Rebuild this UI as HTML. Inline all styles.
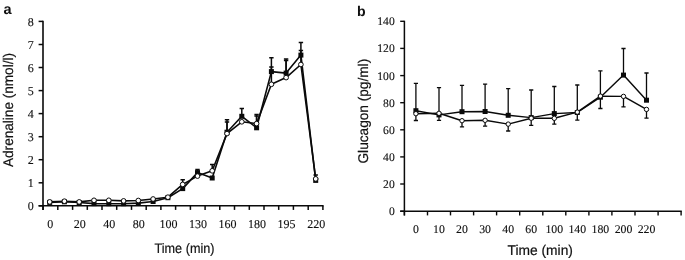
<!DOCTYPE html>
<html><head><meta charset="utf-8"><title>fig</title>
<style>
html,body{margin:0;padding:0;background:#fff;}
body{width:685px;height:260px;overflow:hidden;position:relative;}
svg{will-change:transform;position:absolute;left:0;top:0;display:block;}
text{text-rendering:geometricPrecision;}
.t{font-family:"Liberation Serif",serif;font-size:12px;fill:#111;stroke:#111;stroke-width:0.12px;}
.s{font-family:"Liberation Sans",sans-serif;font-size:12.8px;fill:#111;stroke:#111;stroke-width:0.2px;}
.b{font-family:"Liberation Sans",sans-serif;font-size:14.5px;font-weight:bold;fill:#111;}
</style></head><body>
<svg width="685" height="260" viewBox="0 0 685 260">
<rect width="685" height="260" fill="#fff"/>

<g>
<path d="M43.0 20.8V209.9M38.6 205.8H323.6" stroke="#0a0a0a" stroke-width="1.6" fill="none"/>
<path d="M38.6 205.8H43.0" stroke="#0a0a0a" stroke-width="1.5"/>
<text class="t" x="33.7" y="209.9" text-anchor="end">0</text>
<path d="M38.6 182.8H43.0" stroke="#0a0a0a" stroke-width="1.5"/>
<text class="t" x="33.7" y="186.8" text-anchor="end">1</text>
<path d="M38.6 159.7H43.0" stroke="#0a0a0a" stroke-width="1.5"/>
<text class="t" x="33.7" y="163.8" text-anchor="end">2</text>
<path d="M38.6 136.7H43.0" stroke="#0a0a0a" stroke-width="1.5"/>
<text class="t" x="33.7" y="140.8" text-anchor="end">3</text>
<path d="M38.6 113.6H43.0" stroke="#0a0a0a" stroke-width="1.5"/>
<text class="t" x="33.7" y="117.7" text-anchor="end">4</text>
<path d="M38.6 90.6H43.0" stroke="#0a0a0a" stroke-width="1.5"/>
<text class="t" x="33.7" y="94.7" text-anchor="end">5</text>
<path d="M38.6 67.5H43.0" stroke="#0a0a0a" stroke-width="1.5"/>
<text class="t" x="33.7" y="71.6" text-anchor="end">6</text>
<path d="M38.6 44.5H43.0" stroke="#0a0a0a" stroke-width="1.5"/>
<text class="t" x="33.7" y="48.6" text-anchor="end">7</text>
<path d="M38.6 21.4H43.0" stroke="#0a0a0a" stroke-width="1.5"/>
<text class="t" x="33.7" y="25.5" text-anchor="end">8</text>
<path d="M43.1 205.8V209.9" stroke="#0a0a0a" stroke-width="1.5"/>
<path d="M57.8 205.8V209.9" stroke="#0a0a0a" stroke-width="1.5"/>
<path d="M72.6 205.8V209.9" stroke="#0a0a0a" stroke-width="1.5"/>
<path d="M87.3 205.8V209.9" stroke="#0a0a0a" stroke-width="1.5"/>
<path d="M102.0 205.8V209.9" stroke="#0a0a0a" stroke-width="1.5"/>
<path d="M116.7 205.8V209.9" stroke="#0a0a0a" stroke-width="1.5"/>
<path d="M131.5 205.8V209.9" stroke="#0a0a0a" stroke-width="1.5"/>
<path d="M146.2 205.8V209.9" stroke="#0a0a0a" stroke-width="1.5"/>
<path d="M160.9 205.8V209.9" stroke="#0a0a0a" stroke-width="1.5"/>
<path d="M175.6 205.8V209.9" stroke="#0a0a0a" stroke-width="1.5"/>
<path d="M190.4 205.8V209.9" stroke="#0a0a0a" stroke-width="1.5"/>
<path d="M205.1 205.8V209.9" stroke="#0a0a0a" stroke-width="1.5"/>
<path d="M219.8 205.8V209.9" stroke="#0a0a0a" stroke-width="1.5"/>
<path d="M234.5 205.8V209.9" stroke="#0a0a0a" stroke-width="1.5"/>
<path d="M249.3 205.8V209.9" stroke="#0a0a0a" stroke-width="1.5"/>
<path d="M264.0 205.8V209.9" stroke="#0a0a0a" stroke-width="1.5"/>
<path d="M278.7 205.8V209.9" stroke="#0a0a0a" stroke-width="1.5"/>
<path d="M293.4 205.8V209.9" stroke="#0a0a0a" stroke-width="1.5"/>
<path d="M308.2 205.8V209.9" stroke="#0a0a0a" stroke-width="1.5"/>
<path d="M322.9 205.8V209.9" stroke="#0a0a0a" stroke-width="1.5"/>
<text class="t" x="50.2" y="228.3" text-anchor="middle">0</text>
<text class="t" x="79.7" y="228.3" text-anchor="middle">20</text>
<text class="t" x="109.3" y="228.3" text-anchor="middle">40</text>
<text class="t" x="138.8" y="228.3" text-anchor="middle">80</text>
<text class="t" x="168.4" y="228.3" text-anchor="middle">100</text>
<text class="t" x="198.0" y="228.3" text-anchor="middle">130</text>
<text class="t" x="227.5" y="228.3" text-anchor="middle">160</text>
<text class="t" x="257.1" y="228.3" text-anchor="middle">180</text>
<text class="t" x="286.6" y="228.3" text-anchor="middle">195</text>
<text class="t" x="316.2" y="228.3" text-anchor="middle">220</text>
<text class="s" x="154.5" y="252.5" style="font-size:13.8px" textLength="60.0" lengthAdjust="spacingAndGlyphs">Time (min)</text>
<text class="s" transform="translate(12.7 167) rotate(-90)" style="font-size:14px" textLength="114" lengthAdjust="spacingAndGlyphs">Adrenaline (nmol/l)</text>
<text class="b" x="3.5" y="14.15">a</text>
<path d="M182.7 184.4V179.8M180.5 179.8H184.9" stroke="#0a0a0a" stroke-width="1.5" fill="none"/>
<path d="M197.5 172.6V169.6M195.3 169.6H199.7" stroke="#0a0a0a" stroke-width="1.5" fill="none"/>
<path d="M212.2 170.8V164.4M210.0 164.4H214.4" stroke="#0a0a0a" stroke-width="1.5" fill="none"/>
<path d="M227.0 132.2V119.8M224.8 119.8H229.2" stroke="#0a0a0a" stroke-width="1.5" fill="none"/>
<path d="M227.0 133.6V121.9M224.8 121.9H229.2" stroke="#0a0a0a" stroke-width="1.5" fill="none"/>
<path d="M241.8 116.3V108.5M239.6 108.5H244.0" stroke="#0a0a0a" stroke-width="1.5" fill="none"/>
<path d="M256.6 127.8V115.9M254.4 115.9H258.8" stroke="#0a0a0a" stroke-width="1.5" fill="none"/>
<path d="M256.6 123.6V114.4M254.4 114.4H258.8" stroke="#0a0a0a" stroke-width="1.5" fill="none"/>
<path d="M271.4 71.6V57.7M269.2 57.7H273.6" stroke="#0a0a0a" stroke-width="1.5" fill="none"/>
<path d="M271.4 84.3V67.0M269.2 67.0H273.6" stroke="#0a0a0a" stroke-width="1.5" fill="none"/>
<path d="M286.1 73.1V58.9M283.9 58.9H288.3" stroke="#0a0a0a" stroke-width="1.5" fill="none"/>
<path d="M286.1 77.6V60.6M283.9 60.6H288.3" stroke="#0a0a0a" stroke-width="1.5" fill="none"/>
<path d="M300.9 55.1V42.5M298.7 42.5H303.1" stroke="#0a0a0a" stroke-width="1.5" fill="none"/>
<path d="M300.9 64.5V50.6M298.7 50.6H303.1" stroke="#0a0a0a" stroke-width="1.5" fill="none"/>
<path d="M315.7 178.9V175.0M313.5 175.0H317.9" stroke="#0a0a0a" stroke-width="1.5" fill="none"/>
<polyline points="49.7,202.4 64.4,201.8 79.2,202.5 94.0,203.6 108.8,203.7 123.6,203.7 138.3,203.1 153.1,201.5 167.9,197.7 182.7,188.6 197.5,172.6 212.2,178.0 227.0,132.2 241.8,116.3 256.6,127.8 271.4,71.6 286.1,73.1 300.9,55.1 315.7,180.4" fill="none" stroke="#0a0a0a" stroke-width="1.6" stroke-linejoin="round"/>
<rect x="47.2" y="199.9" width="5.0" height="5.0" fill="#0a0a0a"/>
<rect x="61.9" y="199.3" width="5.0" height="5.0" fill="#0a0a0a"/>
<rect x="76.7" y="200.0" width="5.0" height="5.0" fill="#0a0a0a"/>
<rect x="91.5" y="201.1" width="5.0" height="5.0" fill="#0a0a0a"/>
<rect x="106.3" y="201.2" width="5.0" height="5.0" fill="#0a0a0a"/>
<rect x="121.1" y="201.2" width="5.0" height="5.0" fill="#0a0a0a"/>
<rect x="135.8" y="200.6" width="5.0" height="5.0" fill="#0a0a0a"/>
<rect x="150.6" y="199.0" width="5.0" height="5.0" fill="#0a0a0a"/>
<rect x="165.4" y="195.2" width="5.0" height="5.0" fill="#0a0a0a"/>
<rect x="180.2" y="186.1" width="5.0" height="5.0" fill="#0a0a0a"/>
<rect x="195.0" y="170.1" width="5.0" height="5.0" fill="#0a0a0a"/>
<rect x="209.7" y="175.5" width="5.0" height="5.0" fill="#0a0a0a"/>
<rect x="224.5" y="129.7" width="5.0" height="5.0" fill="#0a0a0a"/>
<rect x="239.3" y="113.8" width="5.0" height="5.0" fill="#0a0a0a"/>
<rect x="254.1" y="125.3" width="5.0" height="5.0" fill="#0a0a0a"/>
<rect x="268.9" y="69.1" width="5.0" height="5.0" fill="#0a0a0a"/>
<rect x="283.6" y="70.6" width="5.0" height="5.0" fill="#0a0a0a"/>
<rect x="298.4" y="52.6" width="5.0" height="5.0" fill="#0a0a0a"/>
<rect x="313.2" y="177.9" width="5.0" height="5.0" fill="#0a0a0a"/>
<polyline points="49.7,201.9 64.4,201.2 79.2,201.9 94.0,200.3 108.8,200.3 123.6,200.9 138.3,200.5 153.1,199.0 167.9,197.2 182.7,184.4 197.5,176.1 212.2,170.8 227.0,133.6 241.8,121.8 256.6,123.6 271.4,84.3 286.1,77.6 300.9,64.5 315.7,178.9" fill="none" stroke="#0a0a0a" stroke-width="1.6" stroke-linejoin="round"/>
<circle cx="49.7" cy="201.9" r="2.35" fill="#fff" stroke="#0a0a0a" stroke-width="1.0"/>
<circle cx="64.4" cy="201.2" r="2.35" fill="#fff" stroke="#0a0a0a" stroke-width="1.0"/>
<circle cx="79.2" cy="201.9" r="2.35" fill="#fff" stroke="#0a0a0a" stroke-width="1.0"/>
<circle cx="94.0" cy="200.3" r="2.35" fill="#fff" stroke="#0a0a0a" stroke-width="1.0"/>
<circle cx="108.8" cy="200.3" r="2.35" fill="#fff" stroke="#0a0a0a" stroke-width="1.0"/>
<circle cx="123.6" cy="200.9" r="2.35" fill="#fff" stroke="#0a0a0a" stroke-width="1.0"/>
<circle cx="138.3" cy="200.5" r="2.35" fill="#fff" stroke="#0a0a0a" stroke-width="1.0"/>
<circle cx="153.1" cy="199.0" r="2.35" fill="#fff" stroke="#0a0a0a" stroke-width="1.0"/>
<circle cx="167.9" cy="197.2" r="2.35" fill="#fff" stroke="#0a0a0a" stroke-width="1.0"/>
<circle cx="182.7" cy="184.4" r="2.35" fill="#fff" stroke="#0a0a0a" stroke-width="1.0"/>
<circle cx="197.5" cy="176.1" r="2.35" fill="#fff" stroke="#0a0a0a" stroke-width="1.0"/>
<circle cx="212.2" cy="170.8" r="2.35" fill="#fff" stroke="#0a0a0a" stroke-width="1.0"/>
<circle cx="227.0" cy="133.6" r="2.35" fill="#fff" stroke="#0a0a0a" stroke-width="1.0"/>
<circle cx="241.8" cy="121.8" r="2.35" fill="#fff" stroke="#0a0a0a" stroke-width="1.0"/>
<circle cx="256.6" cy="123.6" r="2.35" fill="#fff" stroke="#0a0a0a" stroke-width="1.0"/>
<circle cx="271.4" cy="84.3" r="2.35" fill="#fff" stroke="#0a0a0a" stroke-width="1.0"/>
<circle cx="286.1" cy="77.6" r="2.35" fill="#fff" stroke="#0a0a0a" stroke-width="1.0"/>
<circle cx="300.9" cy="64.5" r="2.35" fill="#fff" stroke="#0a0a0a" stroke-width="1.0"/>
<circle cx="315.7" cy="178.9" r="2.35" fill="#fff" stroke="#0a0a0a" stroke-width="1.0"/>
</g>
<g>
<path d="M404.4 20.8V215.4M400.2 211.15H681.8" stroke="#0a0a0a" stroke-width="1.5" fill="none"/>
<path d="M400.2 211.2H404.4" stroke="#0a0a0a" stroke-width="1.4"/>
<text class="t" x="394.7" y="215.1" text-anchor="end" style="font-size:11.6px">0</text>
<path d="M400.2 184.0H404.4" stroke="#0a0a0a" stroke-width="1.4"/>
<text class="t" x="394.7" y="188.0" text-anchor="end" style="font-size:11.6px">20</text>
<path d="M400.2 156.9H404.4" stroke="#0a0a0a" stroke-width="1.4"/>
<text class="t" x="394.7" y="160.9" text-anchor="end" style="font-size:11.6px">40</text>
<path d="M400.2 129.8H404.4" stroke="#0a0a0a" stroke-width="1.4"/>
<text class="t" x="394.7" y="133.7" text-anchor="end" style="font-size:11.6px">60</text>
<path d="M400.2 102.7H404.4" stroke="#0a0a0a" stroke-width="1.4"/>
<text class="t" x="394.7" y="106.6" text-anchor="end" style="font-size:11.6px">80</text>
<path d="M400.2 75.6H404.4" stroke="#0a0a0a" stroke-width="1.4"/>
<text class="t" x="394.7" y="79.5" text-anchor="end" style="font-size:11.6px">100</text>
<path d="M400.2 48.4H404.4" stroke="#0a0a0a" stroke-width="1.4"/>
<text class="t" x="394.7" y="52.4" text-anchor="end" style="font-size:11.6px">120</text>
<path d="M400.2 21.3H404.4" stroke="#0a0a0a" stroke-width="1.4"/>
<text class="t" x="394.7" y="25.3" text-anchor="end" style="font-size:11.6px">140</text>
<path d="M404.4 211.15V215.4" stroke="#0a0a0a" stroke-width="1.4"/>
<path d="M427.5 211.15V215.4" stroke="#0a0a0a" stroke-width="1.4"/>
<path d="M450.5 211.15V215.4" stroke="#0a0a0a" stroke-width="1.4"/>
<path d="M473.6 211.15V215.4" stroke="#0a0a0a" stroke-width="1.4"/>
<path d="M496.6 211.15V215.4" stroke="#0a0a0a" stroke-width="1.4"/>
<path d="M519.7 211.15V215.4" stroke="#0a0a0a" stroke-width="1.4"/>
<path d="M542.8 211.15V215.4" stroke="#0a0a0a" stroke-width="1.4"/>
<path d="M565.8 211.15V215.4" stroke="#0a0a0a" stroke-width="1.4"/>
<path d="M588.9 211.15V215.4" stroke="#0a0a0a" stroke-width="1.4"/>
<path d="M611.9 211.15V215.4" stroke="#0a0a0a" stroke-width="1.4"/>
<path d="M635.0 211.15V215.4" stroke="#0a0a0a" stroke-width="1.4"/>
<path d="M658.1 211.15V215.4" stroke="#0a0a0a" stroke-width="1.4"/>
<path d="M681.1 211.15V215.4" stroke="#0a0a0a" stroke-width="1.4"/>
<text class="t" x="415.9" y="233.3" text-anchor="middle" style="font-size:11.8px">0</text>
<text class="t" x="439.0" y="233.3" text-anchor="middle" style="font-size:11.8px">10</text>
<text class="t" x="462.0" y="233.3" text-anchor="middle" style="font-size:11.8px">20</text>
<text class="t" x="485.1" y="233.3" text-anchor="middle" style="font-size:11.8px">30</text>
<text class="t" x="508.2" y="233.3" text-anchor="middle" style="font-size:11.8px">40</text>
<text class="t" x="531.2" y="233.3" text-anchor="middle" style="font-size:11.8px">60</text>
<text class="t" x="554.3" y="233.3" text-anchor="middle" style="font-size:11.8px">100</text>
<text class="t" x="577.3" y="233.3" text-anchor="middle" style="font-size:11.8px">140</text>
<text class="t" x="600.4" y="233.3" text-anchor="middle" style="font-size:11.8px">180</text>
<text class="t" x="623.5" y="233.3" text-anchor="middle" style="font-size:11.8px">200</text>
<text class="t" x="646.5" y="233.3" text-anchor="middle" style="font-size:11.8px">220</text>
<text class="s" x="507.5" y="254.5" style="font-size:14.1px" textLength="65.4" lengthAdjust="spacingAndGlyphs">Time (min)</text>
<text class="s" transform="translate(368.3 163.5) rotate(-90)" style="font-size:14px" textLength="104.7" lengthAdjust="spacingAndGlyphs">Glucagon (pg/ml)</text>
<text class="b" x="357.1" y="15.5" style="font-size:14.1px">b</text>
<path d="M415.9 110.7V83.4M413.8 83.4H418.0" stroke="#0a0a0a" stroke-width="1.3" fill="none"/>
<path d="M415.9 113.7V120.5M413.8 120.5H418.0" stroke="#0a0a0a" stroke-width="1.3" fill="none"/>
<path d="M439.0 114.9V87.7M436.9 87.7H441.1" stroke="#0a0a0a" stroke-width="1.3" fill="none"/>
<path d="M439.0 113.3V120.3M436.9 120.3H441.1" stroke="#0a0a0a" stroke-width="1.3" fill="none"/>
<path d="M462.0 111.7V85.3M459.9 85.3H464.1" stroke="#0a0a0a" stroke-width="1.3" fill="none"/>
<path d="M462.0 120.7V126.8M459.9 126.8H464.1" stroke="#0a0a0a" stroke-width="1.3" fill="none"/>
<path d="M485.1 111.5V84.2M483.0 84.2H487.2" stroke="#0a0a0a" stroke-width="1.3" fill="none"/>
<path d="M485.1 120.3V126.2M483.0 126.2H487.2" stroke="#0a0a0a" stroke-width="1.3" fill="none"/>
<path d="M508.2 115.3V88.7M506.1 88.7H510.3" stroke="#0a0a0a" stroke-width="1.3" fill="none"/>
<path d="M508.2 124.1V131.0M506.1 131.0H510.3" stroke="#0a0a0a" stroke-width="1.3" fill="none"/>
<path d="M531.2 117.6V90.0M529.1 90.0H533.3" stroke="#0a0a0a" stroke-width="1.3" fill="none"/>
<path d="M531.2 118.2V125.3M529.1 125.3H533.3" stroke="#0a0a0a" stroke-width="1.3" fill="none"/>
<path d="M554.3 113.6V86.5M552.2 86.5H556.4" stroke="#0a0a0a" stroke-width="1.3" fill="none"/>
<path d="M554.3 118.3V124.2M552.2 124.2H556.4" stroke="#0a0a0a" stroke-width="1.3" fill="none"/>
<path d="M577.3 112.5V85.0M575.2 85.0H579.4" stroke="#0a0a0a" stroke-width="1.3" fill="none"/>
<path d="M577.3 112.1V120.2M575.2 120.2H579.4" stroke="#0a0a0a" stroke-width="1.3" fill="none"/>
<path d="M600.4 97.2V70.8M598.3 70.8H602.5" stroke="#0a0a0a" stroke-width="1.3" fill="none"/>
<path d="M600.4 96.1V108.5M598.3 108.5H602.5" stroke="#0a0a0a" stroke-width="1.3" fill="none"/>
<path d="M623.5 75.1V48.5M621.4 48.5H625.6" stroke="#0a0a0a" stroke-width="1.3" fill="none"/>
<path d="M623.5 96.4V106.8M621.4 106.8H625.6" stroke="#0a0a0a" stroke-width="1.3" fill="none"/>
<path d="M646.5 100.2V73.0M644.4 73.0H648.6" stroke="#0a0a0a" stroke-width="1.3" fill="none"/>
<path d="M646.5 109.4V118.2M644.4 118.2H648.6" stroke="#0a0a0a" stroke-width="1.3" fill="none"/>
<polyline points="415.9,110.7 439.0,114.9 462.0,111.7 485.1,111.5 508.2,115.3 531.2,117.6 554.3,113.6 577.3,112.5 600.4,97.2 623.5,75.1 646.5,100.2" fill="none" stroke="#0a0a0a" stroke-width="1.45" stroke-linejoin="round"/>
<rect x="413.4" y="108.2" width="5.0" height="5.0" fill="#0a0a0a"/>
<rect x="436.5" y="112.4" width="5.0" height="5.0" fill="#0a0a0a"/>
<rect x="459.5" y="109.2" width="5.0" height="5.0" fill="#0a0a0a"/>
<rect x="482.6" y="109.0" width="5.0" height="5.0" fill="#0a0a0a"/>
<rect x="505.7" y="112.8" width="5.0" height="5.0" fill="#0a0a0a"/>
<rect x="528.7" y="115.1" width="5.0" height="5.0" fill="#0a0a0a"/>
<rect x="551.8" y="111.1" width="5.0" height="5.0" fill="#0a0a0a"/>
<rect x="574.8" y="110.0" width="5.0" height="5.0" fill="#0a0a0a"/>
<rect x="597.9" y="94.7" width="5.0" height="5.0" fill="#0a0a0a"/>
<rect x="621.0" y="72.6" width="5.0" height="5.0" fill="#0a0a0a"/>
<rect x="644.0" y="97.7" width="5.0" height="5.0" fill="#0a0a0a"/>
<polyline points="415.9,113.7 439.0,113.3 462.0,120.7 485.1,120.3 508.2,124.1 531.2,118.2 554.3,118.3 577.3,112.1 600.4,96.1 623.5,96.4 646.5,109.4" fill="none" stroke="#0a0a0a" stroke-width="1.45" stroke-linejoin="round"/>
<circle cx="415.9" cy="113.7" r="2.2" fill="#fff" stroke="#0a0a0a" stroke-width="1.0"/>
<circle cx="439.0" cy="113.3" r="2.2" fill="#fff" stroke="#0a0a0a" stroke-width="1.0"/>
<circle cx="462.0" cy="120.7" r="2.2" fill="#fff" stroke="#0a0a0a" stroke-width="1.0"/>
<circle cx="485.1" cy="120.3" r="2.2" fill="#fff" stroke="#0a0a0a" stroke-width="1.0"/>
<circle cx="508.2" cy="124.1" r="2.2" fill="#fff" stroke="#0a0a0a" stroke-width="1.0"/>
<circle cx="531.2" cy="118.2" r="2.2" fill="#fff" stroke="#0a0a0a" stroke-width="1.0"/>
<circle cx="554.3" cy="118.3" r="2.2" fill="#fff" stroke="#0a0a0a" stroke-width="1.0"/>
<circle cx="577.3" cy="112.1" r="2.2" fill="#fff" stroke="#0a0a0a" stroke-width="1.0"/>
<circle cx="600.4" cy="96.1" r="2.2" fill="#fff" stroke="#0a0a0a" stroke-width="1.0"/>
<circle cx="623.5" cy="96.4" r="2.2" fill="#fff" stroke="#0a0a0a" stroke-width="1.0"/>
<circle cx="646.5" cy="109.4" r="2.2" fill="#fff" stroke="#0a0a0a" stroke-width="1.0"/>
</g>
</svg></body></html>
